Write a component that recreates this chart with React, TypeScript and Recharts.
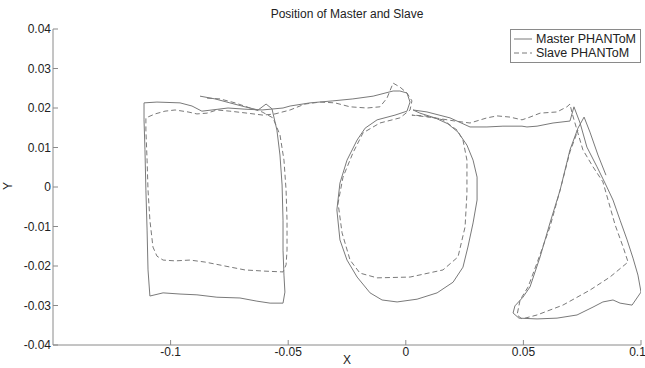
import { LineChart, Line, XAxis, YAxis, Legend } from "recharts";

// pen traces, [x, y] pairs
const masterSquare = [
  [-0.0875, 0.023], [-0.0811, 0.0223], [-0.0748, 0.0213], [-0.0684, 0.0203], [-0.0628, 0.0195],
  [-0.0594, 0.021], [-0.0569, 0.0198], [-0.0548, 0.0144], [-0.0535, 0.0081], [-0.0526, 0.0005],
  [-0.0522, -0.0084], [-0.0522, -0.016], [-0.0518, -0.0223], [-0.0514, -0.0266], [-0.0522, -0.0294],
  [-0.0577, -0.0294], [-0.0633, -0.0289], [-0.0705, -0.0281], [-0.0803, -0.0279], [-0.0888, -0.0273],
  [-0.096, -0.0271], [-0.1032, -0.0268], [-0.1088, -0.0276], [-0.1096, -0.021], [-0.11, -0.0109],
  [-0.1105, -0.0008], [-0.1109, 0.0094], [-0.1113, 0.017], [-0.1113, 0.0213], [-0.1058, 0.0215],
  [-0.096, 0.0213], [-0.0909, 0.0205], [-0.0867, 0.0192], [-0.0824, 0.0195], [-0.0756, 0.02],
  [-0.0684, 0.0197], [-0.0611, 0.0195], [-0.0522, 0.02],
];
const masterToCircle = [
  [-0.0492, 0.0205], [-0.0407, 0.0213], [-0.031, 0.0218], [-0.0225, 0.0223], [-0.0139, 0.023],
  [-0.0054, 0.0243], [-0.0025, 0.0243], [0.0005, 0.0238], [0.0018, 0.0215], [0.0005, 0.0192],
];
const masterCircle = [
  [-0.0046, 0.0182], [-0.0122, 0.017], [-0.0173, 0.0149], [-0.0207, 0.0119], [-0.025, 0.0068],
  [-0.028, 0.001], [-0.0293, -0.0058], [-0.028, -0.0134], [-0.025, -0.0185], [-0.0207, -0.0228],
  [-0.0152, -0.0268], [-0.0101, -0.0286], [-0.0037, -0.0291], [0.0048, -0.0284], [0.0133, -0.0268],
  [0.0201, -0.0241], [0.0243, -0.0203], [0.0264, -0.0152], [0.0286, -0.0091], [0.0303, -0.0033],
  [0.0303, 0.0025], [0.0286, 0.0068], [0.026, 0.0106], [0.0222, 0.0139], [0.0179, 0.016],
  [0.0124, 0.0175], [0.006, 0.0187], [0.0031, 0.0195],
];
const masterToTriangle = [
  [0.009, 0.019], [0.0188, 0.0175], [0.0273, 0.0152], [0.0345, 0.0152], [0.0413, 0.0154],
  [0.0494, 0.0154], [0.0515, 0.0152], [0.0558, 0.0154], [0.0626, 0.0162], [0.0698, 0.0167],
  [0.0715, 0.0203],
];
const masterTriangle = [
  [0.0741, 0.0162], [0.077, 0.0101], [0.0813, 0.0051], [0.0847, 0.001], [0.0881, -0.0033],
  [0.0911, -0.0084], [0.0941, -0.0134], [0.0966, -0.018], [0.0987, -0.0223], [0.1, -0.0266],
  [0.0962, -0.0299], [0.0911, -0.0294], [0.0881, -0.0286], [0.0838, -0.0291], [0.0796, -0.0304],
  [0.0728, -0.0324], [0.0643, -0.0332], [0.0558, -0.0334], [0.0481, -0.0332], [0.0456, -0.0319],
  [0.0464, -0.0301], [0.0498, -0.0279], [0.0528, -0.0253], [0.0571, -0.0177], [0.0613, -0.0091],
  [0.0656, -0.0008], [0.0698, 0.0094], [0.0732, 0.0149], [0.0758, 0.0177], [0.0783, 0.0139],
  [0.0817, 0.0081], [0.0851, 0.003],
];

const slaveSquare = [
  [-0.0845, 0.0225], [-0.079, 0.0223], [-0.0726, 0.0213], [-0.0662, 0.02], [-0.0611, 0.019],
  [-0.0565, 0.0175], [-0.0535, 0.0132], [-0.0518, 0.0068], [-0.0509, -0.0008], [-0.0505, -0.0084],
  [-0.0505, -0.016], [-0.0509, -0.0197], [-0.0522, -0.0215], [-0.0599, -0.0213], [-0.0684, -0.021],
  [-0.0769, -0.02], [-0.0854, -0.019], [-0.0918, -0.0185], [-0.0981, -0.0187], [-0.1032, -0.0185],
  [-0.1058, -0.0175], [-0.1075, -0.0152], [-0.1088, -0.0084], [-0.1096, -0.0008], [-0.11, 0.0068],
  [-0.1105, 0.0144], [-0.1105, 0.0175], [-0.1066, 0.0185], [-0.1024, 0.0192], [-0.0981, 0.0195],
  [-0.0926, 0.019], [-0.0888, 0.0185], [-0.0845, 0.0187], [-0.0803, 0.0195], [-0.0748, 0.0192],
  [-0.0675, 0.0187], [-0.0607, 0.0182], [-0.0556, 0.0185],
];
const slaveToCircle = [
  [-0.0492, 0.0195], [-0.0429, 0.021], [-0.0365, 0.0215], [-0.0301, 0.0213], [-0.0237, 0.0203],
  [-0.0165, 0.02], [-0.011, 0.0203], [-0.008, 0.0225], [-0.0054, 0.0263], [-0.0025, 0.0253],
  [0.0005, 0.0238], [0.0026, 0.0218], [0.0018, 0.0195],
];
const slaveCircle = [
  [-0.0025, 0.0175], [-0.011, 0.0162], [-0.0182, 0.0137], [-0.0225, 0.0086], [-0.0267, 0.0025],
  [-0.0288, -0.0041], [-0.0271, -0.0116], [-0.0237, -0.0185], [-0.0195, -0.0218], [-0.0122, -0.023],
  [0.0018, -0.0228], [0.0158, -0.021], [0.0222, -0.0177], [0.0252, -0.0101], [0.026, -0.0015],
  [0.026, 0.0068], [0.0243, 0.0119], [0.0218, 0.0144], [0.0158, 0.017], [0.0082, 0.018],
  [0.0026, 0.0182],
];
const slaveToTriangle = [
  [0.0124, 0.0175], [0.0209, 0.0167], [0.0273, 0.0162], [0.0345, 0.0175], [0.0388, 0.018],
  [0.0443, 0.0177], [0.0494, 0.017], [0.0528, 0.0177], [0.0571, 0.0187], [0.0643, 0.019],
  [0.0685, 0.0203], [0.0698, 0.021],
];
const slaveTriangle = [
  [0.0707, 0.0187], [0.0728, 0.0144], [0.0753, 0.0094], [0.0796, 0.0051], [0.0838, 0.0013],
  [0.086, -0.0033], [0.089, -0.0096], [0.0924, -0.0152], [0.0945, -0.019], [0.0868, -0.0228],
  [0.0783, -0.0261], [0.0668, -0.0299], [0.0558, -0.0324], [0.0494, -0.0334], [0.0473, -0.0324],
  [0.0486, -0.0286], [0.052, -0.0253], [0.0558, -0.0192], [0.0613, -0.0101], [0.0656, -0.0008],
  [0.0698, 0.0089], [0.0732, 0.0144],
];

const xTicks = [-0.1, -0.05, 0, 0.05, 0.1];
const yTicks = [-0.04, -0.03, -0.02, -0.01, 0, 0.01, 0.02, 0.03, 0.04];
const seriesNames = ["Master PHANToM", "Slave PHANToM"];

const toRows = (...parts: number[][][]) =>
  parts.flat().map(([x, y]) => ({ x, y }));

const master = toRows(masterSquare, masterToCircle, masterCircle, masterToTriangle, masterTriangle);
const slave = toRows(slaveSquare, slaveToCircle, slaveCircle, slaveToTriangle, slaveTriangle);

const FONT = "'Liberation Sans', Arial, sans-serif";
const AXIS = "#8a8a8a";
const LINE = "#7a7a7a";
const fmt = (v: number) => String(Number(v.toFixed(2)));

function LegendBox() {
  return (
    <div
      style={{
        border: `1px solid ${AXIS}`,
        background: "#fff",
        padding: "2px 1px 2px 3px",
        fontFamily: FONT,
        fontSize: 12.5,
        color: "#222",
        lineHeight: "14px",
      }}
    >
      {seriesNames.map((name, i) => (
        <div key={name} style={{ display: "flex", alignItems: "center", whiteSpace: "nowrap" }}>
          <svg width={18} height={14} style={{ marginRight: 4 }}>
            <line x1={0} y1={7} x2={18} y2={7} stroke={LINE} strokeDasharray={i ? "5 3" : undefined} />
          </svg>
          {name}
        </div>
      ))}
    </div>
  );
}

export default function App() {
  return (
    <div style={{ position: "absolute", left: 0, top: 0, width: 645, height: 368, background: "#fff", fontFamily: FONT }}>
      <div style={{ position: "absolute", top: 7, left: 53, width: 588, textAlign: "center", fontSize: 12, color: "#222" }}>
        Position of Master and Slave
      </div>
      <div style={{ position: "absolute", left: 4, top: 179, fontSize: 12, color: "#222", transform: "rotate(-90deg)" }}>
        Y
      </div>
      <div style={{ position: "absolute", left: 343, top: 353, fontSize: 12, lineHeight: "14px", color: "#222" }}>X</div>
      <LineChart width={645} height={368} margin={{ top: 29, right: 4, left: 0, bottom: 0 }}>
        <XAxis
          dataKey="x"
          type="number"
          domain={[-0.15, 0.1]}
          ticks={xTicks}
          tickFormatter={fmt}
          allowDataOverflow
          height={23}
          stroke={AXIS}
          tickSize={-5}
          tickMargin={7}
          tick={{ fill: "#222", fontSize: 12, fontFamily: FONT }}
        />
        <XAxis xAxisId="top" orientation="top" dataKey="x" type="number" domain={[-0.15, 0.1]}
          ticks={xTicks} height={0} stroke={AXIS} tickSize={-5} tick={false} allowDataOverflow />
        <YAxis
          dataKey="y"
          type="number"
          domain={[-0.04, 0.04]}
          ticks={yTicks}
          tickFormatter={fmt}
          allowDataOverflow
          width={53}
          stroke={AXIS}
          tickSize={-5}
          tickMargin={7}
          tick={{ fill: "#222", fontSize: 12, fontFamily: FONT }}
        />
        <YAxis yAxisId="right" orientation="right" type="number" domain={[-0.04, 0.04]}
          ticks={yTicks} width={0} stroke={AXIS} tickSize={-5} tick={false} allowDataOverflow />
        <Legend
          layout="vertical"
          align="center"
          verticalAlign="middle"
          wrapperStyle={{ top: 29, left: 510, width: 131 }}
          content={() => <LegendBox />}
        />
        <Line data={master} dataKey="y" name={seriesNames[0]} stroke={LINE} strokeWidth={1}
          dot={false} isAnimationActive={false} />
        <Line data={slave} dataKey="y" name={seriesNames[1]} stroke={LINE} strokeWidth={1}
          strokeDasharray="5 3" dot={false} isAnimationActive={false} />
      </LineChart>
    </div>
  );
}
